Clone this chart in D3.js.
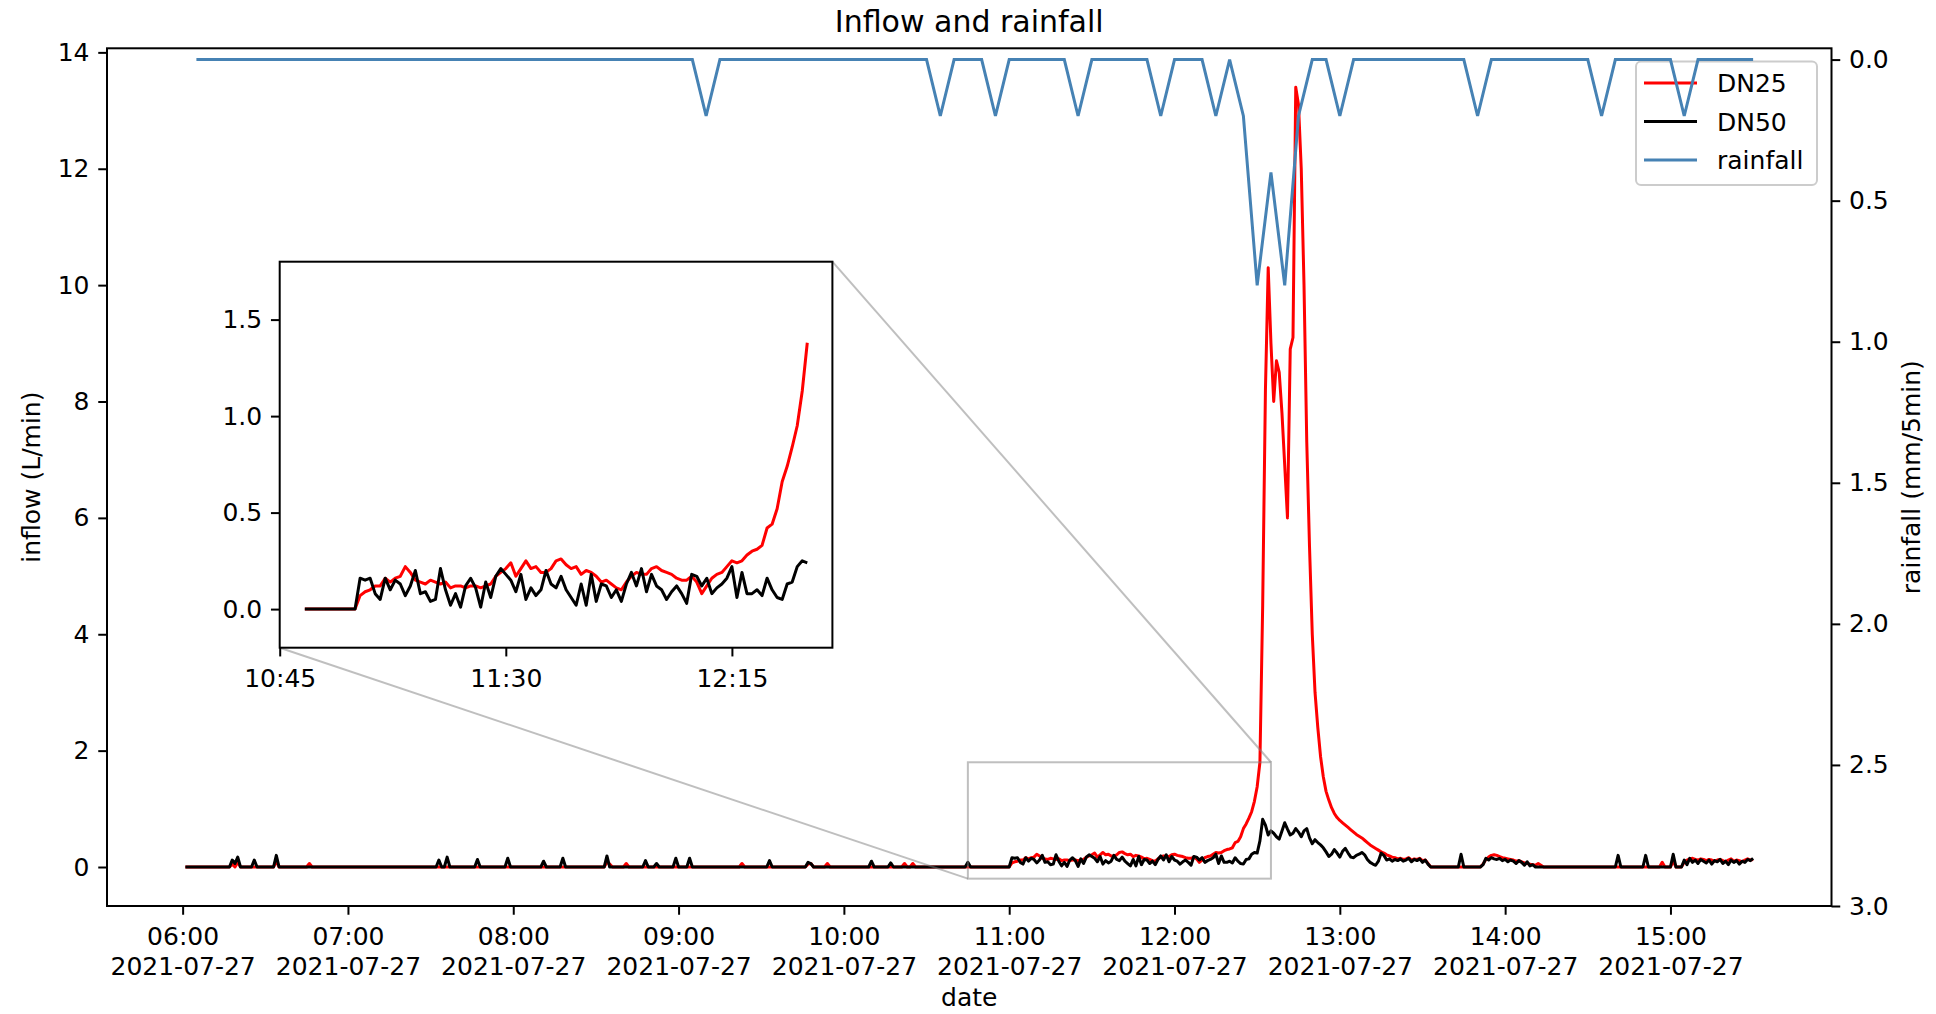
<!DOCTYPE html>
<html>
<head>
<meta charset="utf-8">
<style>
  body { margin: 0; background: #fff; }
  svg text { font-family: "DejaVu Sans", sans-serif; fill: #000; }
</style>
</head>
<body>
<script src="https://d3js.org/d3.v7.min.js"></script>
<script>
// ---- data -------------------------------------------------------------
const day = "2021-07-27"

// inflow (L/min), one reading per minute, 06:01 .. 15:30
const inflowStart = "06:01"
const dn25 = [
  0,0,0,0,0,0,0,0,0,0,
  0,0,0,0,0,0,0,0.05,0,0.08,
  0,0,0,0,0,0,0,0,0,0,
  0,0,0,0.1,0,0,0,0,0,0,
  0,0,0,0,0,0.06,0,0,0,0,
  0,0,0,0,0,0,0,0,0,0,
  0,0,0,0,0,0,0,0,0,0,
  0,0,0,0,0,0,0,0,0,0,
  0,0,0,0,0,0,0,0,0,0,
  0,0,0,0,0,0,0,0,0,0,
  0,0,0,0,0,0,0,0,0,0,
  0,0,0,0,0,0,0,0,0,0,
  0,0,0,0,0,0,0,0,0,0,
  0,0,0,0,0,0,0,0,0,0,
  0,0,0,0,0,0,0,0,0,0,
  0,0,0,0.08,0.05,0,0,0,0,0,
  0.06,0,0,0,0,0,0,0,0,0,
  0,0,0,0,0,0,0,0,0,0,
  0,0,0,0,0,0,0,0,0,0,
  0,0,0,0,0,0,0,0,0,0,
  0,0,0.06,0,0,0,0,0,0,0,
  0,0,0,0,0,0,0,0,0,0,
  0,0,0,0,0,0,0.05,0.06,0,0,
  0,0,0,0.06,0,0,0,0,0,0,
  0,0,0,0,0,0,0,0,0,0,
  0,0,0,0,0,0,0,0,0,0,
  0,0.06,0,0,0.06,0,0,0,0,0,
  0,0,0,0,0,0,0,0,0,0,
  0,0,0,0,0,0,0,0,0,0,
  0,0,0,0,0,0,0,0,0,0,
  0.07,0.09,0.10,0.12,0.12,0.16,0.14,0.16,0.17,0.22,
  0.19,0.15,0.14,0.13,0.15,0.14,0.13,0.14,0.11,0.12,
  0.12,0.11,0.12,0.12,0.11,0.12,0.13,0.17,0.19,0.21,
  0.24,0.17,0.21,0.25,0.21,0.22,0.19,0.19,0.21,0.25,
  0.26,0.23,0.21,0.22,0.18,0.20,0.19,0.17,0.14,0.15,
  0.13,0.11,0.10,0.14,0.17,0.19,0.18,0.18,0.21,0.22,
  0.20,0.19,0.18,0.16,0.15,0.15,0.17,0.14,0.08,0.12,
  0.16,0.18,0.19,0.22,0.25,0.24,0.25,0.28,0.30,0.31,
  0.33,0.42,0.44,0.52,0.66,0.74,0.84,0.95,1.13,1.38,
  1.8,4.5,8.2,10.3,9.0,8.0,8.7,8.5,7.8,6.9,
  6.0,8.9,9.1,13.4,13.1,12.0,10.0,7.3,5.5,4.0,
  3.0,2.4,1.9,1.55,1.3,1.15,1.02,0.92,0.85,0.80,
  0.76,0.72,0.68,0.64,0.60,0.56,0.53,0.50,0.46,0.42,
  0.38,0.35,0.32,0.29,0.26,0.24,0.21,0.19,0.17,0.16,
  0.14,0.15,0.13,0.14,0.16,0.12,0.14,0.13,0.15,0.11,
  0.12,0.06,0,0,0,0,0,0,0,0,
  0,0,0,0,0,0,0,0,0,0,
  0,0.05,0.13,0.17,0.20,0.21,0.20,0.18,0.16,0.15,
  0.14,0.13,0.12,0.10,0.11,0.09,0.07,0.06,0.05,0.04,
  0.03,0.06,0.03,0,0,0,0,0,0,0,
  0,0,0,0,0,0,0,0,0,0,
  0,0,0,0,0,0,0,0,0,0,
  0,0,0,0,0,0,0,0,0,0,
  0,0,0,0,0,0,0.08,0,0,0,
  0.1,0,0,0,0.08,0.12,0.14,0.15,0.13,0.12,
  0.14,0.13,0.11,0.13,0.12,0.10,0.12,0.13,0.11,0.09,
  0.12,0.14,0.10,0.12,0.11,0.09,0.12,0.14,0.12,0.13
]
const dn50 = [
  0,0,0,0,0,0,0,0,0,0,
  0,0,0,0,0,0,0,0.12,0.06,0.17,
  0,0,0,0,0,0.12,0,0,0,0,
  0,0,0,0.2,0,0,0,0,0,0,
  0,0,0,0,0,0,0,0,0,0,
  0,0,0,0,0,0,0,0,0,0,
  0,0,0,0,0,0,0,0,0,0,
  0,0,0,0,0,0,0,0,0,0,
  0,0,0,0,0,0,0,0,0,0,
  0,0,0.12,0,0,0.17,0,0,0,0,
  0,0,0,0,0,0,0.13,0,0,0,
  0,0,0,0,0,0,0,0.15,0,0,
  0,0,0,0,0,0,0,0,0,0,
  0.1,0,0,0,0,0,0,0.15,0,0,
  0,0,0,0,0,0,0,0,0,0,
  0,0,0,0.19,0,0,0,0,0,0,
  0,0,0,0,0,0,0,0.11,0,0,
  0,0.06,0,0,0,0,0,0,0.15,0,
  0,0,0,0.15,0,0,0,0,0,0,
  0,0,0,0,0,0,0,0,0,0,
  0,0,0,0,0,0,0,0,0,0,
  0,0,0.11,0,0,0,0,0,0,0,
  0,0,0,0,0,0,0.08,0.06,0,0,
  0,0,0,0,0,0,0,0,0,0,
  0,0,0,0,0,0,0,0,0,0.1,
  0,0,0,0,0,0,0.07,0,0,0,
  0,0,0,0,0,0,0,0,0,0,
  0,0,0,0,0,0,0,0,0,0,
  0,0,0,0,0.08,0,0,0,0,0,
  0,0,0,0,0,0,0,0,0,0,
  0.16,0.15,0.16,0.08,0.05,0.16,0.10,0.15,0.13,0.07,
  0.12,0.20,0.08,0.09,0.04,0.05,0.21,0.10,0.02,0.08,
  0.01,0.12,0.16,0.11,0.01,0.14,0.06,0.17,0.21,0.18,
  0.15,0.09,0.18,0.05,0.11,0.07,0.10,0.20,0.13,0.11,
  0.17,0.10,0.06,0.02,0.13,0.02,0.18,0.04,0.13,0.12,
  0.06,0.10,0.04,0.13,0.19,0.12,0.21,0.09,0.18,0.12,
  0.10,0.05,0.09,0.12,0.08,0.03,0.18,0.17,0.12,0.16,
  0.08,0.11,0.13,0.16,0.22,0.06,0.19,0.08,0.08,0.10,
  0.07,0.16,0.10,0.06,0.05,0.13,0.14,0.22,0.25,0.24,
  0.45,0.82,0.72,0.55,0.62,0.58,0.52,0.48,0.62,0.76,
  0.65,0.55,0.58,0.66,0.60,0.52,0.62,0.66,0.50,0.40,
  0.47,0.42,0.38,0.33,0.26,0.18,0.22,0.30,0.24,0.17,
  0.27,0.32,0.24,0.17,0.16,0.20,0.22,0.25,0.21,0.13,
  0.08,0.05,0.03,0.10,0.24,0.20,0.12,0.14,0.10,0.13,
  0.11,0.14,0.10,0.12,0.15,0.09,0.13,0.11,0.14,0.08,
  0.12,0.05,0,0,0,0,0,0,0,0,
  0,0,0,0.22,0,0,0,0,0,0,
  0,0.04,0.15,0.12,0.16,0.14,0.13,0.15,0.11,0.13,
  0.09,0.12,0.10,0.06,0.11,0.08,0.03,0.09,0.02,0.04,
  0,0,0,0,0,0,0,0,0,0,
  0,0,0,0,0,0,0,0,0,0,
  0,0,0,0,0,0,0,0,0,0,
  0.2,0,0,0,0,0,0,0,0,0,
  0.2,0,0,0,0,0,0,0,0,0,
  0.22,0,0,0,0.12,0.04,0.15,0.08,0.12,0.06,
  0.13,0.10,0.07,0.12,0.05,0.11,0.09,0.13,0.06,0.10,
  0.04,0.12,0.08,0.11,0.05,0.10,0.08,0.13,0.11,0.15
]

// rainfall (mm per 5 min), 06:05 .. 15:30
const rainStart = "06:05"
const rainfall = [
  0,0,0,0,0,0,0,0,0,0,
  0,0,0,0,0,0,0,0,0,0,
  0,0,0,0,0,0,0,0,0,0,
  0,0,0,0,0,0,0,0.2,0,0,
  0,0,0,0,0,0,0,0,0,0,
  0,0,0,0,0.2,0,0,0,0.2,0,
  0,0,0,0,0.2,0,0,0,0,0,
  0.2,0,0,0,0.2,0,0.2,0.8,0.4,0.8,
  0.2,0,0,0.2,0,0,0,0,0,0,
  0,0,0,0.2,0,0,0,0,0,0,
  0,0,0.2,0,0,0,0,0,0.2,0,
  0,0,0,0
]

const hourTicks = ["06:00","07:00","08:00","09:00","10:00","11:00","12:00","13:00","14:00","15:00"]
const inflowTicks = [0, 2, 4, 6, 8, 10, 12, 14]
const rainTicks = [0, 0.5, 1, 1.5, 2, 2.5, 3]
const rainBottom = 3

// zoomed window
const insetLimX = ["10:45", "12:35"]
const insetLimY = [-0.2, 1.8]
const insetShown = ["10:50", "12:30"]
const insetTicksX = ["10:45", "11:30", "12:15"]
const insetTicksY = [0, 0.5, 1, 1.5]

const seriesNames = ["DN25", "DN50", "rainfall"]
const seriesColors = ["#ff0000", "#000000", "#4682b4"]

// ---- drawing ----------------------------------------------------------
const W = 1936, H = 1014
const L = 107, R = 1831.5, T = 48.3, B = 906
const iL = 279.7, iR = 832.4, iT = 261.7, iB = 647.7
const FS = 25, TICK = 8.75

const parse = d3.timeParse("%Y-%m-%d %H:%M")
const at = s => parse(day + " " + s)

const t0 = at(inflowStart)
const s25 = dn25.map((v, i) => ({date: d3.timeMinute.offset(t0, i), v: v}))
const s50 = dn50.map((v, i) => ({date: d3.timeMinute.offset(t0, i), v: v}))
const r0 = at(rainStart)
const rain = rainfall.map((v, i) => ({date: d3.timeMinute.offset(r0, 5 * i), v: v}))

const svg = d3.select("body").append("svg").attr("width", W).attr("height", H)

const ext = d3.extent(s25, d => d.date)
const pad = (ext[1] - ext[0]) * 0.05
const x = d3.scaleTime().domain([new Date(+ext[0] - pad), new Date(+ext[1] + pad)]).range([L, R])
const yMax = d3.max(dn25.concat(dn50))
const y = d3.scaleLinear().domain([-yMax * 0.05, yMax * 1.05]).range([B, T])
const yR = d3.scaleLinear().domain([rainBottom, -d3.max(rainfall) * 0.05]).range([B, T])

const xi = d3.scaleTime().domain(insetLimX.map(at)).range([iL, iR])
const yi = d3.scaleLinear().domain(insetLimY).range([iB, iT])

const defs = svg.append("defs")
defs.append("clipPath").attr("id", "clipMain").append("rect")
  .attr("x", L).attr("y", T).attr("width", R - L).attr("height", B - T)
defs.append("clipPath").attr("id", "clipInset").append("rect")
  .attr("x", iL).attr("y", iT).attr("width", iR - iL).attr("height", iB - iT)

function styleAxis(g) {
  g.attr("font-family", "DejaVu Sans").attr("font-size", FS)
  g.select(".domain").remove()
  g.selectAll(".tick line").attr("stroke", "#000").attr("stroke-width", 2)
  g.selectAll(".tick text").attr("fill", "#000")
}

// main inflow lines
const mainLine = d3.line().x(d => x(d.date)).y(d => y(d.v))
const gMain = svg.append("g").attr("clip-path", "url(#clipMain)")
gMain.append("path").datum(s25).attr("d", mainLine)
  .attr("fill", "none").attr("stroke", seriesColors[0]).attr("stroke-width", 3).attr("stroke-linejoin", "round")
gMain.append("path").datum(s50).attr("d", mainLine)
  .attr("fill", "none").attr("stroke", seriesColors[1]).attr("stroke-width", 3).attr("stroke-linejoin", "round")

// zoom indicator
const zx0 = x(at(insetLimX[0])), zx1 = x(at(insetLimX[1]))
const zy0 = y(insetLimY[0]), zy1 = y(insetLimY[1])
const gInd = svg.append("g").attr("stroke", "#808080").attr("stroke-opacity", 0.5).attr("stroke-width", 2).attr("fill", "none")
gInd.append("rect").attr("x", zx0).attr("y", zy1).attr("width", zx1 - zx0).attr("height", zy0 - zy1)
gInd.append("line").attr("x1", iL).attr("y1", iB).attr("x2", zx0).attr("y2", zy0)
gInd.append("line").attr("x1", iR).attr("y1", iT).attr("x2", zx1).attr("y2", zy1)

// main axes
svg.append("rect").attr("x", L).attr("y", T).attr("width", R - L).attr("height", B - T)
  .attr("fill", "none").attr("stroke", "#000").attr("stroke-width", 2)

svg.append("g").attr("transform", `translate(${L},0)`)
  .call(d3.axisLeft(y).tickValues(inflowTicks).tickFormat(d3.format("d")).tickSize(TICK).tickPadding(TICK))
  .call(styleAxis)

const fmtH = d3.timeFormat("%H:%M"), fmtD = d3.timeFormat("%Y-%m-%d")
const gx = svg.append("g").attr("transform", `translate(0,${B})`)
  .call(d3.axisBottom(x).tickValues(hourTicks.map(at)).tickFormat("").tickSize(TICK).tickPadding(TICK))
  .call(styleAxis)
gx.selectAll(".tick text").each(function(d) {
  const t = d3.select(this).attr("dy", null).attr("y", null).text(null)
  t.append("tspan").attr("x", 0).attr("y", 39).text(fmtH(d))
  t.append("tspan").attr("x", 0).attr("y", 69).text(fmtD(d))
})

// inset
const gIn = svg.append("g")
gIn.append("rect").attr("x", iL).attr("y", iT).attr("width", iR - iL).attr("height", iB - iT).attr("fill", "#fff")
const shown = insetShown.map(at)
const inWin = d => d.date >= shown[0] && d.date <= shown[1]
const insetLine = d3.line().x(d => xi(d.date)).y(d => yi(d.v))
const gInL = gIn.append("g").attr("clip-path", "url(#clipInset)")
gInL.append("path").datum(s25.filter(inWin)).attr("d", insetLine)
  .attr("fill", "none").attr("stroke", seriesColors[0]).attr("stroke-width", 3).attr("stroke-linejoin", "round")
gInL.append("path").datum(s50.filter(inWin)).attr("d", insetLine)
  .attr("fill", "none").attr("stroke", seriesColors[1]).attr("stroke-width", 3).attr("stroke-linejoin", "round")
gIn.append("rect").attr("x", iL).attr("y", iT).attr("width", iR - iL).attr("height", iB - iT)
  .attr("fill", "none").attr("stroke", "#000").attr("stroke-width", 2)
gIn.append("g").attr("transform", `translate(${iL},0)`)
  .call(d3.axisLeft(yi).tickValues(insetTicksY).tickFormat(d3.format(".1f")).tickSize(TICK).tickPadding(TICK))
  .call(styleAxis)
const gix = gIn.append("g").attr("transform", `translate(0,${iB})`)
  .call(d3.axisBottom(xi).tickValues(insetTicksX.map(at)).tickFormat(fmtH).tickSize(TICK).tickPadding(TICK))
  .call(styleAxis)
gix.selectAll(".tick text").attr("dy", null).attr("y", 39)

// legend
const lgX = 1636, lgY = 61.5, lgW = 181, lgH = 123.5
const lg = svg.append("g")
lg.append("rect").attr("x", lgX).attr("y", lgY).attr("width", lgW).attr("height", lgH).attr("rx", 5)
  .attr("fill", "#fff").attr("fill-opacity", 0.8).attr("stroke", "#cccccc").attr("stroke-width", 2)
const rowY = [83, 121.5, 160]
seriesNames.forEach((name, i) => {
  lg.append("line").attr("x1", lgX + 8).attr("x2", lgX + 61).attr("y1", rowY[i]).attr("y2", rowY[i])
    .attr("stroke", seriesColors[i]).attr("stroke-width", 3)
  lg.append("text").attr("x", lgX + 81).attr("y", rowY[i] + 9).attr("font-size", FS).text(name)
})

// rainfall on the twin axis
const rainLine = d3.line().x(d => x(d.date)).y(d => yR(d.v))
svg.append("g").attr("clip-path", "url(#clipMain)")
  .append("path").datum(rain).attr("d", rainLine)
  .attr("fill", "none").attr("stroke", seriesColors[2]).attr("stroke-width", 3).attr("stroke-linejoin", "miter")

svg.append("g").attr("transform", `translate(${R},0)`)
  .call(d3.axisRight(yR).tickValues(rainTicks).tickFormat(d3.format(".1f")).tickSize(TICK).tickPadding(TICK))
  .call(styleAxis)

// labels
svg.append("text").attr("x", (L + R) / 2).attr("y", 32).attr("text-anchor", "middle")
  .attr("font-size", 30).text("Inflow and rainfall")
svg.append("text").attr("x", (L + R) / 2).attr("y", 1006).attr("text-anchor", "middle")
  .attr("font-size", FS).text("date")
svg.append("text").attr("transform", `translate(40,${(T + B) / 2}) rotate(-90)`).attr("text-anchor", "middle")
  .attr("font-size", FS).text("inflow (L/min)")
svg.append("text").attr("transform", `translate(1920,${(T + B) / 2}) rotate(-90)`).attr("text-anchor", "middle")
  .attr("font-size", FS).text("rainfall (mm/5min)")
</script>
</body>
</html>
